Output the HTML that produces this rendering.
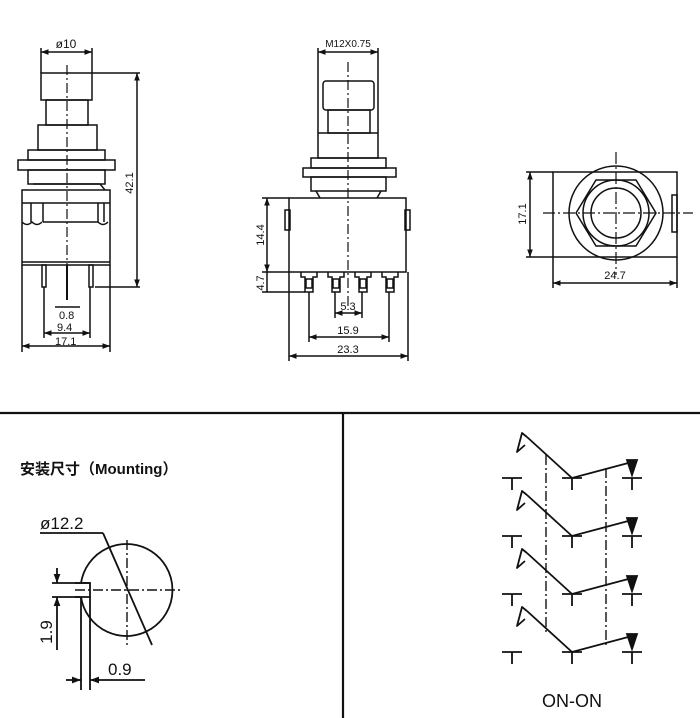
<!DOCTYPE html>
<html><head><meta charset="utf-8"><style>
html,body{margin:0;padding:0;background:#fff}
svg{display:block}
text{font-family:"Liberation Sans","Noto Sans CJK SC",sans-serif;fill:#111}
</style></head><body>
<svg width="700" height="718" viewBox="0 0 700 718" xmlns="http://www.w3.org/2000/svg">
<defs>
<marker id="a" viewBox="0 0 8 6" refX="8" refY="3" markerWidth="5" markerHeight="4" orient="auto-start-reverse"><path d="M0,0L8,3L0,6z" fill="#111"/></marker>
</defs>
<g stroke="#111" stroke-width="1.5" fill="none">
<line x1="0" y1="413" x2="700" y2="413" stroke-width="2.2"/>
<line x1="343" y1="413" x2="343" y2="718" stroke-width="2.2"/>

<!-- LEFT VIEW -->
<line x1="41" y1="48" x2="41" y2="73"/><line x1="92" y1="48" x2="92" y2="73"/>
<line x1="41" y1="52" x2="92" y2="52" marker-start="url(#a)" marker-end="url(#a)"/>
<rect x="41" y="73" width="51" height="27"/>
<rect x="46" y="100" width="42" height="25"/>
<rect x="38" y="125" width="59" height="25"/>
<rect x="28" y="150" width="77" height="10"/>
<rect x="18" y="160" width="97" height="10"/>
<rect x="28" y="170" width="77" height="14"/>
<path d="M33 184 L100 184 L105 190"/>
<rect x="22" y="190" width="88" height="75"/>
<path d="M22 203 H110 M31 203 V222 M43 203 V222 M98 203 V222 M104 203 V222 M43 222 H98"/>
<path d="M22 222 q5 5 10 0 q5 5 10 0 M98 222 q5 5 10 0" />
<line x1="22" y1="262" x2="110" y2="262"/>
<rect x="42" y="265" width="4" height="22"/><rect x="89" y="265" width="4" height="22"/>
<line x1="67" y1="265" x2="67" y2="300" stroke-width="2"/>
<line x1="92" y1="73" x2="140" y2="73"/><line x1="95" y1="287" x2="140" y2="287"/>
<line x1="137" y1="73" x2="137" y2="287" marker-start="url(#a)" marker-end="url(#a)"/>
<line x1="55" y1="307" x2="80" y2="307"/>
<line x1="44" y1="287" x2="44" y2="338"/><line x1="90" y1="287" x2="90" y2="338"/>
<line x1="44" y1="333" x2="90" y2="333" marker-start="url(#a)" marker-end="url(#a)"/>
<line x1="22" y1="265" x2="22" y2="352"/><line x1="110" y1="265" x2="110" y2="352"/>
<line x1="22" y1="346" x2="110" y2="346" marker-start="url(#a)" marker-end="url(#a)"/>
<line x1="67" y1="65" x2="67" y2="290" stroke-dasharray="10,3,2,3" stroke-width="1.2"/>

<!-- MIDDLE VIEW -->
<line x1="318" y1="48" x2="318" y2="133"/><line x1="378" y1="48" x2="378" y2="133"/>
<line x1="318" y1="52" x2="378" y2="52" marker-start="url(#a)" marker-end="url(#a)"/>
<rect x="323" y="81" width="51" height="29" rx="3"/>
<rect x="328" y="110" width="42" height="23"/>
<rect x="318" y="133" width="60" height="25"/>
<rect x="311" y="158" width="75" height="10"/>
<rect x="303" y="168" width="93" height="9"/>
<rect x="311" y="177" width="75" height="14"/>
<path d="M316 191 L320 198 M381 191 L377 198"/>
<rect x="289" y="198" width="117" height="74"/>
<rect x="285" y="210" width="5" height="20"/><rect x="405" y="210" width="5" height="20"/>
<g>
<path d="M301 272 v5 h4 v15 h8 v-15 h4 v-5"/><rect x="306" y="279" width="6" height="9"/>
<path d="M328 272 v5 h4 v15 h8 v-15 h4 v-5"/><rect x="333" y="279" width="6" height="9"/>
<path d="M355 272 v5 h4 v15 h8 v-15 h4 v-5"/><rect x="360" y="279" width="6" height="9"/>
<path d="M382 272 v5 h4 v15 h8 v-15 h4 v-5"/><rect x="387" y="279" width="6" height="9"/>
</g>
<line x1="262" y1="198" x2="289" y2="198"/><line x1="262" y1="272" x2="289" y2="272"/><line x1="262" y1="292" x2="305" y2="292"/>
<line x1="267" y1="198" x2="267" y2="272" marker-start="url(#a)" marker-end="url(#a)"/>
<line x1="267" y1="272" x2="267" y2="292"/>
<line x1="335" y1="292" x2="335" y2="318"/><line x1="362" y1="292" x2="362" y2="318"/>
<line x1="335" y1="313" x2="362" y2="313" marker-start="url(#a)" marker-end="url(#a)"/>
<line x1="309" y1="292" x2="309" y2="342"/><line x1="389" y1="292" x2="389" y2="342"/>
<line x1="309" y1="337" x2="389" y2="337" marker-start="url(#a)" marker-end="url(#a)"/>
<line x1="289" y1="272" x2="289" y2="361"/><line x1="408" y1="272" x2="408" y2="361"/>
<line x1="289" y1="356" x2="408" y2="356" marker-start="url(#a)" marker-end="url(#a)"/>
<line x1="348" y1="62" x2="348" y2="310" stroke-dasharray="10,3,2,3" stroke-width="1.2"/>

<!-- RIGHT VIEW -->
<rect x="553" y="172" width="124" height="85"/>
<rect x="672" y="195" width="5" height="37"/>
<circle cx="616" cy="213" r="47"/>
<polygon points="576,213 596,180 636,180 656,213 636,246 596,246"/>
<circle cx="616" cy="213" r="33"/>
<circle cx="616" cy="213" r="25"/>
<line x1="616" y1="152" x2="616" y2="275" stroke-dasharray="12,3,2,3" stroke-width="1.2"/>
<line x1="543" y1="213" x2="693" y2="213" stroke-dasharray="12,3,2,3" stroke-width="1.2"/>
<line x1="526" y1="172" x2="553" y2="172"/><line x1="526" y1="257" x2="553" y2="257"/>
<line x1="530" y1="172" x2="530" y2="257" marker-start="url(#a)" marker-end="url(#a)"/>
<line x1="553" y1="257" x2="553" y2="288"/><line x1="677" y1="257" x2="677" y2="288"/>
<line x1="553" y1="283" x2="677" y2="283" marker-start="url(#a)" marker-end="url(#a)"/>
</g>

<g stroke="#111" stroke-width="1.8" fill="none">
<!-- MOUNTING -->
<path d="M81 583 A46 46 0 1 1 81 597"/>
<path d="M75 583 H90 V597 H75"/>
<line x1="40" y1="533" x2="103" y2="533"/>
<line x1="103" y1="533" x2="152" y2="645"/>
<line x1="127" y1="540" x2="127" y2="647" stroke-dasharray="10,3,2,3" stroke-width="1.4"/>
<line x1="75" y1="590" x2="182" y2="590" stroke-dasharray="10,3,2,3" stroke-width="1.4"/>
<line x1="52" y1="583" x2="90" y2="583"/><line x1="52" y1="597" x2="80" y2="597"/>
<line x1="57" y1="568" x2="57" y2="583" marker-end="url(#a)"/>
<line x1="57" y1="650" x2="57" y2="597" marker-end="url(#a)"/>
<line x1="81" y1="597" x2="81" y2="690"/><line x1="90" y1="597" x2="90" y2="690"/>
<line x1="66" y1="680" x2="81" y2="680" marker-end="url(#a)"/>
<line x1="145" y1="680" x2="90" y2="680" marker-end="url(#a)"/>

<!-- SCHEMATIC -->
<g id="row">
<path d="M502 478 H522 M512 478 V490 M562 478 H582 M572 478 V490 M622 478 H642 M632 478 V490"/>
<path d="M527 437 L572 478"/>
<path d="M527 437 L522 433 L517 452 L525 445" stroke-linejoin="round"/>
<path d="M572 478 L632 462"/>
<path d="M627 460 L637 460 L632 475 z" fill="#111"/>
</g>
<use href="#row" y="58"/><use href="#row" y="116"/><use href="#row" y="174"/>
<line x1="546" y1="455" x2="546" y2="632" stroke-dasharray="10,3,2,3" stroke-width="1.4"/>
<line x1="606" y1="468" x2="606" y2="646" stroke-dasharray="10,3,2,3" stroke-width="1.4"/>
</g>
<g font-size="11">
<text x="66" y="48" text-anchor="middle" font-size="12">ø10</text>
<text x="59" y="319">0.8</text>
<text x="57" y="331">9.4</text>
<text x="55" y="345">17.1</text>
<text transform="translate(133,183) rotate(-90)" text-anchor="middle">42.1</text>
<text x="348" y="47" text-anchor="middle" font-size="10">M12X0.75</text>
<text transform="translate(264,235) rotate(-90)" text-anchor="middle">14.4</text>
<text transform="translate(264,283) rotate(-90)" text-anchor="middle">4.7</text>
<text x="348" y="310" text-anchor="middle">5.3</text>
<text x="348" y="334" text-anchor="middle">15.9</text>
<text x="348" y="353" text-anchor="middle">23.3</text>
<text transform="translate(526,214) rotate(-90)" text-anchor="middle">17.1</text>
<text x="615" y="279" text-anchor="middle">24.7</text>
</g>
<text x="20" y="474" font-size="15" font-weight="bold">安装尺寸（Mounting）</text>
<text x="40" y="529" font-size="17">ø12.2</text>
<text transform="translate(52,632) rotate(-90)" font-size="17" text-anchor="middle">1.9</text>
<text x="108" y="675" font-size="17">0.9</text>
<text x="572" y="707" font-size="18" text-anchor="middle">ON-ON</text>
</svg>
</body></html>
